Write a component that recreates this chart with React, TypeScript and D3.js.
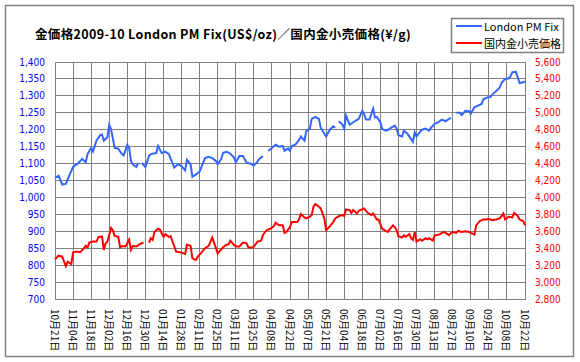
import React, { useEffect, useRef } from "react";
import * as d3 from "d3";

// x-axis tick labels, one every 10 trading days
const dateLabels = [
  "10月21日", "11月04日", "11月18日", "12月02日", "12月16日", "12月30日",
  "01月14日", "01月28日", "02月11日", "02月25日", "03月11日", "03月25日",
  "04月08日", "04月22日", "05月07日", "05月21日", "06月04日", "06月18日",
  "07月02日", "07月16日", "07月30日", "08月13日", "08月27日", "09月10日",
  "09月24日", "10月08日", "10月22日",
];

const leftTicks = d3.range(700, 1401, 50);
const rightTicks = d3.range(2800, 5601, 200);

// [trading day index, US$/oz] (null = no fix that day)
const londonFix: [number, number | null][] = [
  [0, 1058], [2, 1064], [4, 1038], [6, 1040], [8, 1066], [10, 1090], [13, 1102], [15, 1114],
  [17, 1104], [18, 1128], [20, 1146], [21, 1136], [23, 1168], [25, 1184], [26, 1186], [27, 1168],
  [29, 1178], [30, 1214], [31, 1202], [33, 1146], [35, 1144], [37, 1128], [38, 1124], [40, 1155],
  [41, 1148], [42, 1108], [43, 1098], [45, 1090], [46, 1102], [47, null], [48, 1102], [50, 1090],
  [52, 1122], [53, 1128], [56, 1131], [57, 1152], [58, 1142], [59, 1131], [61, 1135], [63, 1128],
  [64, 1114], [66, 1088], [68, 1098], [70, 1092], [72, 1080], [73, 1111], [75, 1098], [76, 1061],
  [78, 1068], [80, 1076], [81, 1090], [83, 1116], [85, 1120], [87, 1116], [89, 1108], [90, 1098],
  [92, 1114], [93, 1132], [95, 1135], [97, 1129], [99, 1118], [100, 1104], [102, 1122], [104, 1122],
  [106, 1102], [108, 1100], [110, 1094], [112, 1106], [113, 1114], [115, 1122], [116, null],
  [118, 1137], [120, 1146], [122, 1156], [124, 1150], [126, 1152], [127, 1138], [129, 1145],
  [130, 1138], [131, 1152], [133, 1156], [135, 1170], [136, 1180], [138, 1168], [139, 1196],
  [141, 1203], [142, 1232], [144, 1238], [146, 1232], [147, 1206], [149, 1188], [150, 1180],
  [152, 1200], [154, 1210], [155, 1206], [156, null], [157, 1225], [159, 1215], [160, 1203],
  [161, 1242], [163, 1215], [165, 1222], [168, 1232], [170, 1256], [171, 1246], [172, 1230],
  [174, 1230], [176, 1262], [177, 1236], [178, 1238], [180, 1222], [181, 1202], [183, 1197],
  [184, 1199], [186, 1206], [188, 1212], [189, 1203], [190, 1184], [192, 1180], [193, 1197],
  [195, 1188], [196, 1180], [198, 1164], [199, 1192], [200, 1180], [202, 1194], [203, 1200],
  [205, 1203], [207, 1197], [208, 1206], [210, 1217], [212, 1222], [214, 1230], [216, 1225],
  [218, 1232], [219, 1235], [220, null], [222, 1250], [224, 1250], [225, 1243], [227, 1256],
  [229, 1255], [230, 1247], [232, 1266], [234, 1271], [236, 1276], [237, 1290], [239, 1295],
  [241, 1297], [242, 1304], [244, 1314], [246, 1324], [247, 1338], [249, 1350], [251, 1352],
  [252, 1358], [253, 1370], [255, 1371], [256, 1355], [257, 1338], [259, 1340], [260, 1343],
];

// [trading day index, 円/g]
const domesticRetail: [number, number | null][] = [
  [0, 3268], [2, 3312], [4, 3300], [6, 3188], [7, 3240], [9, 3212], [10, 3348], [12, 3360],
  [14, 3352], [16, 3400], [17, 3428], [18, 3408], [19, 3466], [21, 3478], [23, 3478], [24, 3530],
  [26, 3538], [27, 3380], [28, 3458], [29, 3478], [31, 3640], [32, 3612], [33, 3546], [35, 3534],
  [36, 3410], [37, 3426], [39, 3420], [41, 3500], [42, 3380], [43, 3426], [45, 3420], [47, 3450],
  [49, 3466], [50, null], [52, 3466], [53, 3518], [54, 3498], [55, 3592], [57, 3630], [58, 3620],
  [60, 3534], [61, 3566], [63, 3534], [64, 3542], [66, 3420], [67, 3360], [70, 3348], [72, 3332],
  [73, 3440], [75, 3428], [76, 3280], [78, 3260], [79, 3300], [81, 3348], [83, 3400], [85, 3428],
  [87, 3526], [88, 3466], [90, 3340], [92, 3388], [94, 3432], [96, 3448], [97, 3488], [99, 3440],
  [100, 3420], [102, 3420], [104, 3466], [106, 3458], [107, 3408], [109, 3408], [110, 3420],
  [112, 3478], [114, 3488], [115, 3554], [117, 3612], [119, 3630], [121, 3658], [122, 3700],
  [124, 3670], [126, 3670], [127, 3580], [128, 3592], [130, 3650], [131, 3710], [134, 3710],
  [135, 3740], [136, 3804], [138, 3764], [139, 3752], [141, 3772], [142, 3792], [143, 3890],
  [144, 3922], [146, 3890], [147, 3870], [149, 3752], [150, 3612], [152, 3658], [154, 3710],
  [155, 3752], [157, 3780], [159, 3792], [160, 3780], [161, 3858], [163, 3850], [164, 3818],
  [165, 3850], [167, 3810], [168, 3842], [171, 3870], [172, 3842], [173, 3818], [175, 3792],
  [176, 3810], [178, 3740], [179, 3740], [181, 3630], [183, 3604], [184, 3592], [185, 3620],
  [187, 3670], [188, 3650], [189, 3612], [190, 3542], [192, 3526], [193, 3554], [194, 3534],
  [196, 3566], [197, 3518], [198, 3498], [199, 3592], [200, 3478], [202, 3506], [203, 3488],
  [205, 3518], [206, 3506], [207, 3518], [209, 3488], [210, 3554], [211, 3554], [213, 3566],
  [215, 3592], [216, 3580], [218, 3554], [219, 3580], [220, 3592], [222, 3580], [223, 3604],
  [225, 3592], [227, 3600], [229, 3592], [230, 3580], [232, 3560], [233, 3670], [235, 3722],
  [237, 3740], [238, 3740], [240, 3744], [242, 3730], [244, 3740], [246, 3752], [247, 3780],
  [248, 3810], [249, 3740], [251, 3772], [253, 3764], [254, 3818], [256, 3780], [257, 3740],
  [259, 3722], [260, 3670],
];

const App: React.FC = () => {
  const svgRef = useRef<SVGSVGElement>(null);

  useEffect(() => {
    if (!svgRef.current) return;
    const svg = d3.select(svgRef.current);
    svg.selectAll("*").remove();

    const W = 580, H = 362;
    const plot = { left: 55, right: 525, top: 62, bottom: 299 };
    const grid = "#808080";
    const font = "'Noto Sans CJK JP', sans-serif";
    const numFont = "'Liberation Sans Narrow', 'DejaVu Sans Condensed', sans-serif";

    const x = d3.scaleLinear().domain([0, 260]).range([plot.left, plot.right]);
    const yL = d3.scaleLinear().domain([700, 1400]).range([plot.bottom, plot.top]);
    const yR = d3.scaleLinear().domain([2800, 5600]).range([plot.bottom, plot.top]);
    const fmt = d3.format(",");

    svg.append("rect").attr("width", W).attr("height", H).attr("fill", "#fff");
    // outer chart border
    svg.append("rect")
      .attr("x", 5.5).attr("y", 5.5).attr("width", 568).attr("height", 351)
      .attr("fill", "none").attr("stroke", grid).attr("stroke-width", 1.5);

    // title
    svg.append("text")
      .attr("x", 35).attr("y", 39)
      .attr("font-family", font).attr("font-weight", "bold").attr("font-size", 12.5)
      .attr("letter-spacing", 0.35)
      .text("金価格2009-10 London PM Fix(US$/oz)／国内金小売価格(¥/g)");

    // grid lines
    const g = svg.append("g").attr("shape-rendering", "crispEdges");
    g.selectAll("line.h").data(leftTicks).join("line")
      .attr("x1", plot.left).attr("x2", plot.right)
      .attr("y1", (d) => yL(d)).attr("y2", (d) => yL(d))
      .attr("stroke", grid);
    g.selectAll("line.v").data(dateLabels).join("line")
      .attr("x1", (_, i) => x(i * 10)).attr("x2", (_, i) => x(i * 10))
      .attr("y1", plot.top).attr("y2", plot.bottom)
      .attr("stroke", grid);
    g.append("rect")
      .attr("x", plot.left).attr("y", plot.top)
      .attr("width", plot.right - plot.left).attr("height", plot.bottom - plot.top)
      .attr("fill", "none").attr("stroke", grid);

    // left axis labels
    svg.append("g").selectAll("text").data(leftTicks).join("text")
      .attr("x", 45).attr("y", (d) => yL(d))
      .attr("text-anchor", "end").attr("dominant-baseline", "central")
      .attr("font-family", numFont).attr("font-size", 10).attr("fill", "#0000ff")
      .text((d) => fmt(d));

    // right axis labels
    svg.append("g").selectAll("text").data(rightTicks).join("text")
      .attr("x", 535).attr("y", (d) => yR(d))
      .attr("text-anchor", "start").attr("dominant-baseline", "central")
      .attr("font-family", numFont).attr("font-size", 10).attr("fill", "#ff0000")
      .text((d) => fmt(d));

    // date labels, rotated
    svg.append("g").selectAll("text").data(dateLabels).join("text")
      .attr("transform", (_, i) => `translate(${x(i * 10)},309) rotate(90)`)
      .attr("dominant-baseline", "central")
      .attr("font-family", font).attr("font-size", 10).attr("fill", "#000")
      .text((d) => d);

    // series
    const lineL = d3.line<[number, number | null]>()
      .defined((d) => d[1] !== null)
      .x((d) => x(d[0]))
      .y((d) => yL(d[1] as number));
    const lineR = d3.line<[number, number | null]>()
      .defined((d) => d[1] !== null)
      .x((d) => x(d[0]))
      .y((d) => yR(d[1] as number));

    svg.append("path").datum(londonFix)
      .attr("fill", "none").attr("stroke", "#3366ff").attr("stroke-width", 2)
      .attr("d", lineL);
    svg.append("path").datum(domesticRetail)
      .attr("fill", "none").attr("stroke", "#ff0000").attr("stroke-width", 2)
      .attr("d", lineR);

    // legend
    const lg = svg.append("g");
    lg.append("rect")
      .attr("x", 451.5).attr("y", 18.5).attr("width", 112).attr("height", 34)
      .attr("fill", "#fff").attr("stroke", grid).attr("stroke-width", 1.5);
    const items = [
      { name: "London PM Fix", color: "#3366ff", y: 26 },
      { name: "国内金小売価格", color: "#ff0000", y: 43 },
    ];
    items.forEach((it) => {
      lg.append("line")
        .attr("x1", 456).attr("x2", 482).attr("y1", it.y).attr("y2", it.y)
        .attr("stroke", it.color).attr("stroke-width", 2);
      lg.append("text")
        .attr("x", 484).attr("y", it.y).attr("dominant-baseline", "central")
        .attr("font-family", font).attr("font-size", 11)
        .text(it.name);
    });
  }, []);

  return (
    <svg
      ref={svgRef}
      width={580}
      height={362}
      style={{ position: "absolute", left: 0, top: 0 }}
    />
  );
};

export default App;
